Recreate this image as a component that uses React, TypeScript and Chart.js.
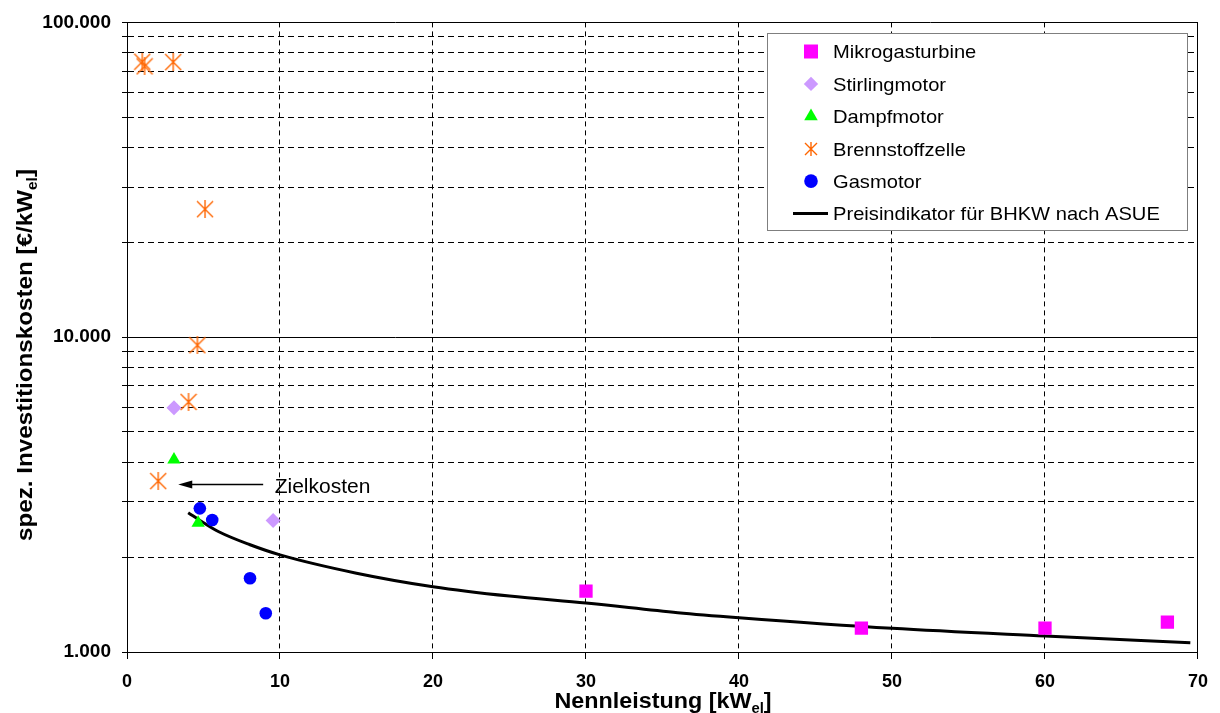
import React, { useEffect, useRef } from 'react';
import { Chart, registerables } from 'chart.js';

Chart.register(...registerables);

const FONT = '"Liberation Sans", Arial, Helvetica, sans-serif';

// ---- data ----
const seriesNames = [
  'Mikrogasturbine',
  'Stirlingmotor',
  'Dampfmotor',
  'Brennstoffzelle',
  'Gasmotor',
  'Preisindikator für BHKW nach ASUE',
];
const mikroX = [30.0, 48.0, 60.0, 68.0];
const mikroY = [1560, 1190, 1190, 1245];
const stirlingX = [3.07, 9.55];
const stirlingY = [5970, 2615];
const dampfX = [3.07, 4.65];
const dampfY = [4080, 2570];
const brennX = [1.0, 1.15, 3.02, 5.1, 4.6, 4.02, 2.04];
const brennY = [75000, 72500, 74800, 25500, 9430, 6230, 3490];
const gasX = [4.76, 5.57, 8.04, 9.07];
const gasY = [2860, 2625, 1715, 1327];
const asueX = [4, 5, 6, 8, 10, 15, 20, 25, 30, 36, 40, 50, 60, 69.5];
const asueY = [2770, 2575, 2410, 2195, 2035, 1780, 1612, 1505, 1431, 1333, 1285, 1189, 1124, 1070];

const xTickValues = [0, 10, 20, 30, 40, 50, 60, 70];
const yTickValues = [
  1000, 2000, 3000, 4000, 5000, 6000, 7000, 8000, 9000,
  10000, 20000, 30000, 40000, 50000, 60000, 70000, 80000, 90000, 100000,
];
const yTickLabels = [
  '1.000', '', '', '', '', '', '', '', '',
  '10.000', '', '', '', '', '', '', '', '', '100.000',
];
const yMajor = [1000, 10000, 100000];
const xSolid = [0, 70];

const xTitle = ['Nennleistung [kW', 'el', ']'];
const yTitle = ['spez. Investitionskosten [€/kW', 'el', ']'];
const annotationText = 'Zielkosten';
const arrowFromX = 8.9;
const arrowToX = 3.35;
const arrowY = 3420;
const annotationLabelX = 9.65;

const zip = (xs: number[], ys: number[]) => xs.map((x, i) => ({ x, y: ys[i] }));

function makeStar(size: number, color: string, lw: number): HTMLCanvasElement {
  const c = document.createElement('canvas');
  c.width = size;
  c.height = size;
  const g = c.getContext('2d')!;
  g.strokeStyle = color;
  g.lineWidth = lw;
  const m = 1;
  g.beginPath();
  g.moveTo(m, m);
  g.lineTo(size - m, size - m);
  g.moveTo(size - m, m);
  g.lineTo(m, size - m);
  g.moveTo(size / 2, 0);
  g.lineTo(size / 2, size);
  g.stroke();
  return c;
}

function drawMarker(ctx: CanvasRenderingContext2D, style: any, x: number, y: number, r: number, color: string) {
  ctx.save();
  ctx.fillStyle = color;
  ctx.beginPath();
  if (style === 'rect') {
    const s = r * Math.SQRT1_2;
    ctx.rect(x - s, y - s, 2 * s, 2 * s);
    ctx.fill();
  } else if (style === 'rectRot') {
    ctx.moveTo(x, y - r);
    ctx.lineTo(x + r, y);
    ctx.lineTo(x, y + r);
    ctx.lineTo(x - r, y);
    ctx.closePath();
    ctx.fill();
  } else if (style === 'triangle') {
    let a = 0;
    ctx.moveTo(x + Math.sin(a) * r, y - Math.cos(a) * r);
    a += (2 * Math.PI) / 3;
    ctx.lineTo(x + Math.sin(a) * r, y - Math.cos(a) * r);
    a += (2 * Math.PI) / 3;
    ctx.lineTo(x + Math.sin(a) * r, y - Math.cos(a) * r);
    ctx.closePath();
    ctx.fill();
  } else if (style === 'circle') {
    ctx.arc(x, y, r, 0, Math.PI * 2);
    ctx.fill();
  } else if (style === 'line') {
    ctx.strokeStyle = color;
    ctx.lineWidth = 3;
    ctx.moveTo(x - 18, y);
    ctx.lineTo(x + 17, y);
    ctx.stroke();
  } else if (style && style.width) {
    ctx.drawImage(style, Math.round(x - style.width / 2), Math.round(y - style.height / 2));
  }
  ctx.restore();
}

function drawRich(
  ctx: CanvasRenderingContext2D,
  segs: { t: string; font: string; dy: number }[],
  sx: number
) {
  const widths = segs.map((s) => {
    ctx.font = s.font;
    return ctx.measureText(s.t).width;
  });
  const total = widths.reduce((a, b) => a + b, 0);
  ctx.scale(sx, 1);
  let cx = -total / 2;
  segs.forEach((s, i) => {
    ctx.font = s.font;
    ctx.fillText(s.t, cx, s.dy);
    cx += widths[i];
  });
}

export default function App() {
  const ref = useRef<HTMLCanvasElement | null>(null);

  useEffect(() => {
    const canvas = ref.current;
    if (!canvas) return;

    const starBig = makeStar(18, '#FF6600', 1.4);
    const starLegend = makeStar(14, '#FF6600', 1.4);

    const legendItems: { style: any; r: number; color: string }[] = [
      { style: 'rect', r: 9.9, color: '#FF00FF' },
      { style: 'rectRot', r: 7.2, color: '#CC99FF' },
      { style: 'triangle', r: 7.8, color: '#00FF00' },
      { style: starLegend, r: 7, color: '#FF6600' },
      { style: 'circle', r: 6.8, color: '#0000FF' },
      { style: 'line', r: 0, color: '#000000' },
    ];

    const decor = {
      id: 'decor',
      afterDatasetsDraw(chart: any) {
        const { ctx } = chart;
        const xs = chart.scales.x;
        const ys = chart.scales.y;
        // annotation arrow
        const ay = Math.round(ys.getPixelForValue(arrowY)) + 0.5;
        const x1 = xs.getPixelForValue(arrowFromX);
        const x2 = xs.getPixelForValue(arrowToX);
        ctx.save();
        ctx.strokeStyle = '#000';
        ctx.fillStyle = '#000';
        ctx.lineWidth = 1.5;
        ctx.beginPath();
        ctx.moveTo(x1, ay);
        ctx.lineTo(x2 + 8, ay);
        ctx.stroke();
        ctx.beginPath();
        ctx.moveTo(x2, ay);
        ctx.lineTo(x2 + 14, ay - 4);
        ctx.lineTo(x2 + 14, ay + 4);
        ctx.closePath();
        ctx.fill();
        ctx.font = `21px ${FONT}`;
        ctx.textAlign = 'left';
        ctx.textBaseline = 'alphabetic';
        ctx.fillText(annotationText, xs.getPixelForValue(annotationLabelX), ay + 8);

        // legend box
        ctx.fillStyle = '#ffffff';
        ctx.fillRect(767, 33, 420, 198);
        ctx.strokeStyle = '#7f7f7f';
        ctx.lineWidth = 1;
        ctx.strokeRect(767.5, 33.5, 420, 197);
        const rowY0 = 51.5;
        const rowStep = 32.4;
        seriesNames.forEach((name, i) => {
          const ry = rowY0 + i * rowStep;
          const it = legendItems[i];
          drawMarker(ctx, it.style, 811, ry, it.r, it.color);
          ctx.save();
          ctx.fillStyle = '#000';
          ctx.font = `19px ${FONT}`;
          ctx.textAlign = 'left';
          ctx.textBaseline = 'alphabetic';
          ctx.translate(833, ry + 6.8);
          ctx.scale(1.06, 1);
          ctx.fillText(name, 0, 0);
          ctx.restore();
        });
        ctx.restore();
      },
      afterDraw(chart: any) {
        const { ctx } = chart;
        ctx.save();
        ctx.fillStyle = '#000';
        ctx.textAlign = 'left';
        ctx.textBaseline = 'alphabetic';
        // x title
        ctx.save();
        ctx.translate(663, 708);
        drawRich(
          ctx,
          [
            { t: xTitle[0], font: `bold 22px ${FONT}`, dy: 0 },
            { t: xTitle[1], font: `bold 14px ${FONT}`, dy: 5 },
            { t: xTitle[2], font: `bold 22px ${FONT}`, dy: 0 },
          ],
          1.06
        );
        ctx.restore();
        // y title
        ctx.save();
        ctx.translate(32, 355);
        ctx.rotate(-Math.PI / 2);
        drawRich(
          ctx,
          [
            { t: yTitle[0], font: `bold 22px ${FONT}`, dy: 0 },
            { t: yTitle[1], font: `bold 14px ${FONT}`, dy: 5 },
            { t: yTitle[2], font: `bold 22px ${FONT}`, dy: 0 },
          ],
          1.1
        );
        ctx.restore();
        ctx.restore();
      },
    };

    const chart = new Chart(canvas, {
      type: 'scatter',
      data: {
        datasets: [
          {
            label: seriesNames[0],
            data: zip(mikroX, mikroY),
            pointStyle: 'rect',
            pointRadius: 9.4,
            backgroundColor: '#FF00FF',
            borderColor: '#FF00FF',
            borderWidth: 0,
            order: 1,
          },
          {
            label: seriesNames[1],
            data: zip(stirlingX, stirlingY),
            pointStyle: 'rectRot',
            pointRadius: 7.5,
            backgroundColor: '#CC99FF',
            borderColor: '#CC99FF',
            borderWidth: 0,
            order: 1,
          },
          {
            label: seriesNames[2],
            data: zip(dampfX, dampfY),
            pointStyle: 'triangle',
            pointRadius: 7.7,
            backgroundColor: '#00FF00',
            borderColor: '#00FF00',
            borderWidth: 0,
            order: 1,
          },
          {
            label: seriesNames[3],
            data: zip(brennX, brennY),
            pointStyle: starBig as any,
            pointRadius: 9,
            backgroundColor: '#FF6600',
            borderColor: '#FF6600',
            borderWidth: 0,
            order: 1,
          },
          {
            label: seriesNames[4],
            data: zip(gasX, gasY),
            pointStyle: 'circle',
            pointRadius: 6.3,
            backgroundColor: '#0000FF',
            borderColor: '#0000FF',
            borderWidth: 0,
            order: 0,
          },
          {
            type: 'line',
            label: seriesNames[5],
            data: zip(asueX, asueY),
            showLine: true,
            borderColor: '#000000',
            backgroundColor: '#000000',
            borderWidth: 3,
            pointRadius: 0,
            cubicInterpolationMode: 'monotone',
            fill: false,
            order: 10,
          } as any,
        ],
      },
      options: {
        animation: false,
        responsive: false,
        events: [],
        layout: { padding: { left: 0, right: 20, top: 22, bottom: 0 } },
        plugins: {
          legend: { display: false },
          tooltip: { enabled: false },
          title: { display: false },
        },
        scales: {
          x: {
            type: 'linear',
            min: 0,
            max: 70,
            afterBuildTicks: (s: any) => {
              s.ticks = xTickValues.map((v) => ({ value: v }));
            },
            afterFit: (s: any) => {
              s.height = 61;
            },
            ticks: {
              font: { family: FONT, size: 18, weight: 'bold' },
              color: '#000',
              padding: 12,
              maxRotation: 0,
              autoSkip: false,
            },
            grid: {
              color: '#000',
              lineWidth: 1,
              drawTicks: true,
              tickLength: 7,
              tickColor: '#000',
              tickWidth: 1,
            },
            border: {
              display: true,
              color: '#000',
              width: 1,
              dash: (c: any) => (c.tick && xSolid.includes(c.tick.value) ? [] : [5, 4]),
            },
          },
          y: {
            type: 'logarithmic',
            min: 1000,
            max: 100000,
            afterBuildTicks: (s: any) => {
              s.ticks = yTickValues.map((v) => ({ value: v }));
            },
            afterFit: (s: any) => {
              s.width = 127;
            },
            ticks: {
              font: { family: FONT, size: 19, weight: 'bold' },
              color: '#000',
              padding: 11,
              autoSkip: false,
              callback: (_v: any, i: number) => yTickLabels[i],
            },
            grid: {
              color: '#000',
              lineWidth: 1,
              drawTicks: true,
              tickLength: 5,
              tickColor: '#000',
              tickWidth: 1,
            },
            border: {
              display: true,
              color: '#000',
              width: 1,
              dash: (c: any) => (c.tick && yMajor.includes(c.tick.value) ? [] : [6, 4]),
            },
          },
        },
      } as any,
      plugins: [decor],
    });

    return () => {
      chart.destroy();
    };
  }, []);

  return (
    <div
      style={{
        position: 'fixed',
        left: 0,
        top: 0,
        width: 1220,
        height: 713,
        background: '#ffffff',
        overflow: 'hidden',
      }}
    >
      <canvas ref={ref} width={1220} height={713} style={{ display: 'block' }} />
    </div>
  );
}
